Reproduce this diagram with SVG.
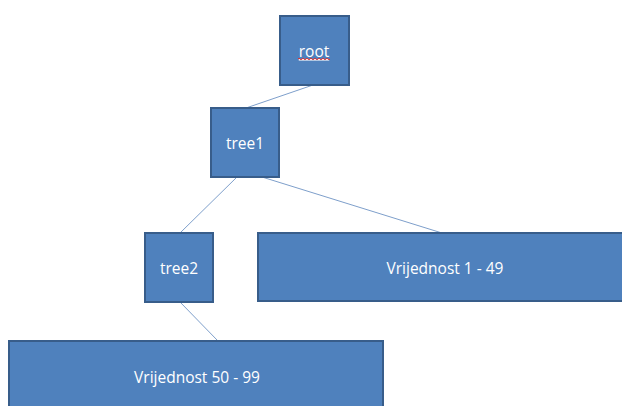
<svg xmlns="http://www.w3.org/2000/svg" width="622" height="406" viewBox="0 0 622 406">
<style>
.box{fill:#4F81BD;stroke:#385D8A;stroke-width:2}
.lbl{fill:#FFFFFF;font-family:"Open Sans","Liberation Sans",sans-serif;font-size:15.5px;text-anchor:middle;dominant-baseline:central}
.edge{stroke:#7E9FCB;stroke-width:1;fill:none}
</style>
<rect width="622" height="406" fill="#FFFFFF"/>
<g id="connectors">
<line class="edge" x1="313" y1="85" x2="246" y2="108"/>
<line class="edge" x1="237" y1="177" x2="180" y2="233"/>
<line class="edge" x1="262" y1="177" x2="442" y2="233"/>
<line class="edge" x1="180" y1="302" x2="218" y2="341"/>
</g>
<g id="root">
<rect class="box" x="280" y="16" width="69" height="69"/>
<text class="lbl" x="314" y="51" text-decoration="underline">root</text>
<path d="M298 59 q1 -1.5 2 0 t2 0 t2 0 t2 0 t2 0 t2 0 t2 0 t2 0 t2 0 t2 0 t2 0 t2 0 t2 0 t2 0 t2 0 t2 0" fill="none" stroke="#E03030" stroke-width="1"/>
</g>
<g id="tree1">
<rect class="box" x="211" y="108" width="68" height="69"/>
<text class="lbl" x="245" y="143">tree1</text>
</g>
<g id="tree2">
<rect class="box" x="145" y="233" width="68" height="69"/>
<text class="lbl" x="179" y="268">tree2</text>
</g>
<g id="v1">
<rect class="box" x="258" y="233" width="370" height="68"/>
<text class="lbl" x="445" y="268">Vrijednost 1 - 49</text>
</g>
<g id="v50">
<rect class="box" x="9" y="341" width="374" height="70"/>
<text class="lbl" x="197" y="377">Vrijednost 50 - 99</text>
</g>
</svg>
